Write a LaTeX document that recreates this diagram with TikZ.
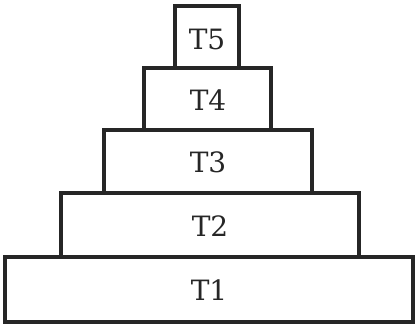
\documentclass[tikz,border=0pt]{standalone}
\usepackage{fontspec}
\setmainfont{DejaVu Serif}
\begin{document}
\begin{tikzpicture}[x=1pt,y=-1pt,
  tier/.style={draw=black!85,line width=3.2pt,fill=white},
  lbl/.style={font=\fontsize{28}{28}\selectfont,text=black!85}]
\useasboundingbox (0,0) rectangle (415,326);
\fill[white] (0,0) rectangle (415,326);
\draw[tier] (5,257) rectangle (413,322);
\draw[tier] (61,193) rectangle (359,257);
\draw[tier] (104,130) rectangle (312,193);
\draw[tier] (144,68) rectangle (271,130);
\draw[tier] (175,6) rectangle (239,68);
\node[lbl] (t1) at (209,290) {T1};
\node[lbl] (t2) at (210,226) {T2};
\node[lbl] (t3) at (208,162) {T3};
\node[lbl] (t4) at (208,100) {T4};
\node[lbl] (t5) at (207,39) {T5};
\end{tikzpicture}
\end{document}
